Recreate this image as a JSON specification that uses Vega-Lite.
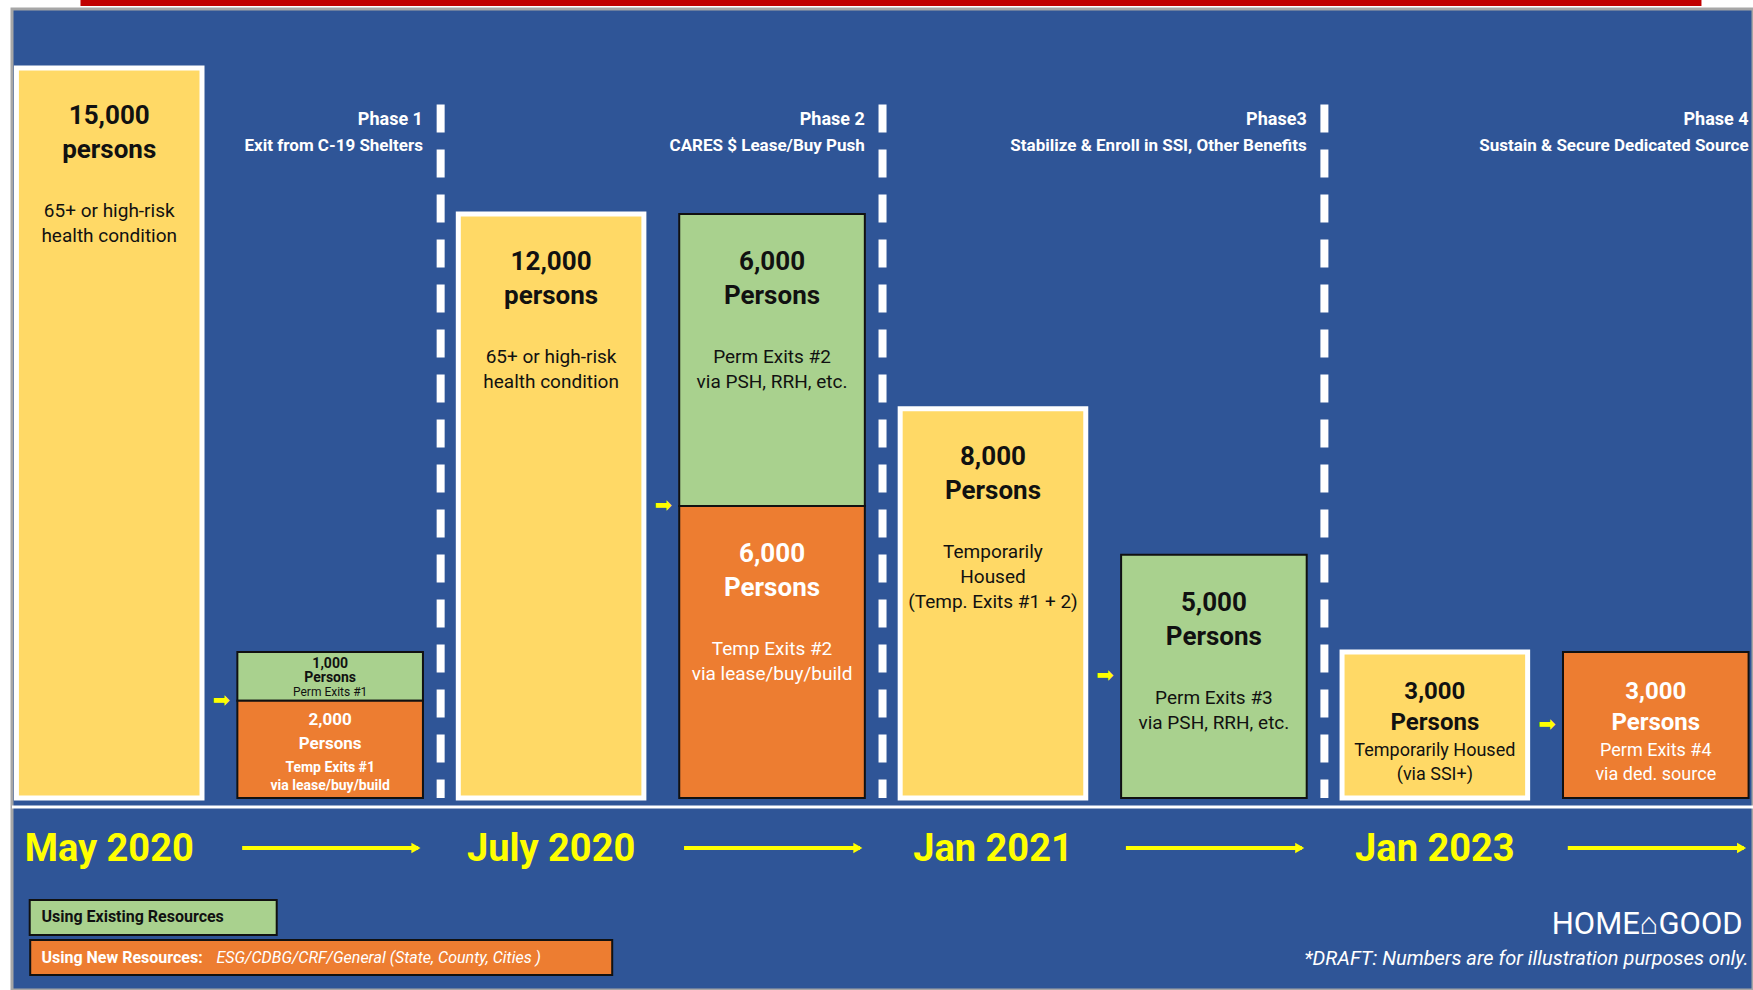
{
  "$schema": "https://vega.github.io/schema/vega-lite/v6.json",
  "width": 1741,
  "height": 981,
  "autosize": "none",
  "padding": {"left": 12, "top": 9, "right": 0, "bottom": 0},
  "background": "#FFFFFF",
  "config": {
    "view": {"fill": "#2F5597", "stroke": "#A6A6A6", "strokeWidth": 3},
    "text": {"font": "Roboto"}
  },
  "datasets": {
    "boxes": [
      {"slot": "May 2020", "kind": "Cohort", "persons": 15000, "headline": ["15,000", "persons"], "detail": ["65+ or high-risk", "health condition"]},
      {"slot": "Phase 1", "kind": "Existing resources", "persons": 1000, "headline": ["1,000", "Persons"], "detail": ["Perm Exits #1"]},
      {"slot": "Phase 1", "kind": "New resources", "persons": 2000, "headline": ["2,000", "Persons"], "detail": ["Temp Exits #1", "via lease/buy/build"]},
      {"slot": "July 2020", "kind": "Cohort", "persons": 12000, "headline": ["12,000", "persons"], "detail": ["65+ or high-risk", "health condition"]},
      {"slot": "Phase 2", "kind": "Existing resources", "persons": 6000, "headline": ["6,000", "Persons"], "detail": ["Perm Exits #2", "via PSH, RRH, etc."]},
      {"slot": "Phase 2", "kind": "New resources", "persons": 6000, "headline": ["6,000", "Persons"], "detail": ["Temp Exits #2", "via lease/buy/build"]},
      {"slot": "Jan 2021", "kind": "Cohort", "persons": 8000, "headline": ["8,000", "Persons"], "detail": ["Temporarily", "Housed", "(Temp. Exits #1 + 2)"]},
      {"slot": "Phase 3", "kind": "Existing resources", "persons": 5000, "headline": ["5,000", "Persons"], "detail": ["Perm Exits #3", "via PSH, RRH, etc."]},
      {"slot": "Jan 2023", "kind": "Cohort", "persons": 3000, "headline": ["3,000", "Persons"], "detail": ["Temporarily Housed", "(via SSI+)"]},
      {"slot": "Phase 4", "kind": "New resources", "persons": 3000, "headline": ["3,000", "Persons"], "detail": ["Perm Exits #4", "via ded. source"]}
    ],
    "phases": [
      {"slot": "Phase 1", "phase": "Phase 1", "goal": "Exit from C-19 Shelters"},
      {"slot": "Phase 2", "phase": "Phase 2", "goal": "CARES $ Lease/Buy Push"},
      {"slot": "Phase 3", "phase": "Phase3", "goal": "Stabilize & Enroll in SSI, Other Benefits"},
      {"slot": "Phase 4", "phase": "Phase 4", "goal": "Sustain & Secure Dedicated Source"}
    ],
    "milestones": [
      {"slot": "May 2020"},
      {"slot": "July 2020"},
      {"slot": "Jan 2021"},
      {"slot": "Jan 2023"}
    ],
    "legend": [
      {"slot": "May 2020", "kind": "Existing resources", "label": "Using Existing Resources", "note": ""},
      {"slot": "May 2020", "kind": "New resources", "label": "Using New Resources:", "note": "ESG/CDBG/CRF/General (State, County, Cities )"}
    ],
    "credits": [
      {"slot": "Phase 4", "org": "HOME⌂GOOD", "note": "*DRAFT: Numbers are for illustration purposes only."}
    ],
    "frame": [
      {"slot": "Jan 2021", "line": "top band"}
    ]
  },
  "layer": [
    {
      "data": {"name": "boxes"},
      "transform": [
        {"stack": "persons", "groupby": ["slot"], "sort": [{"field": "kind", "order": "descending"}], "as": ["v0", "v1"]},
        {"filter": "datum.kind == 'Cohort'"}
      ],
      "mark": {"type": "bar", "stroke": "#FFFFFF", "strokeWidth": 5},
      "encoding": {
        "x": {"field": "slot", "type": "nominal", "axis": null,
          "scale": {"type": "band", "domain": ["May 2020", "Phase 1", "July 2020", "Phase 2", "Jan 2021", "Phase 3", "Jan 2023", "Phase 4"], "paddingInner": 0.16, "paddingOuter": 0.02}},
        "y": {"field": "v1", "type": "quantitative", "axis": null, "scale": {"domain": [-3945, 16213], "nice": false, "zero": false}},
        "y2": {"field": "v0"},
        "fill": {"field": "kind", "type": "nominal", "legend": null,
          "scale": {"domain": ["Cohort", "Existing resources", "New resources"], "range": ["#FFD966", "#A9D18E", "#ED7D31"]}}
      }
    },
    {
      "data": {"name": "boxes"},
      "transform": [
        {"stack": "persons", "groupby": ["slot"], "sort": [{"field": "kind", "order": "descending"}], "as": ["v0", "v1"]},
        {"filter": "datum.kind != 'Cohort'"}
      ],
      "mark": {"type": "bar", "stroke": "#111111", "strokeWidth": 2},
      "encoding": {
        "x": {"field": "slot", "type": "nominal"},
        "y": {"field": "v1", "type": "quantitative"},
        "y2": {"field": "v0"},
        "fill": {"field": "kind", "type": "nominal", "legend": null}
      }
    },
    {
      "data": {"name": "frame"},
      "mark": {"type": "bar", "color": "#C00000", "width": 1621, "xOffset": -102},
      "encoding": {
        "x": {"field": "slot", "type": "nominal"},
        "y": {"datum": 16398, "type": "quantitative"},
        "y2": {"datum": 16274}
      }
    },
    {
      "data": {"name": "frame"},
      "mark": {"type": "rule", "color": "#FFFFFF", "strokeWidth": 3},
      "encoding": {"y": {"datum": -185, "type": "quantitative"}}
    },
    {
      "data": {"name": "phases"},
      "mark": {"type": "rule", "color": "#FFFFFF", "strokeWidth": 8, "strokeDash": [28, 17], "xOffset": 17.7},
      "encoding": {
        "x": {"field": "slot", "type": "nominal", "bandPosition": 1},
        "y": {"datum": 14250, "type": "quantitative"},
        "y2": {"datum": 0}
      }
    },
    {
      "data": {"name": "boxes"},
      "transform": [
        {"stack": "persons", "groupby": ["slot"], "sort": [{"field": "kind", "order": "descending"}], "as": ["v0", "v1"]},
        {"filter": "datum.kind != 'Cohort'"},
        {"fold": ["v0", "v1"], "as": ["edge", "level"]}
      ],
      "mark": {"type": "text", "text": "➡", "font": "DejaVu Sans", "fontSize": 21, "color": "#FFFF00", "baseline": "middle", "xOffset": -16},
      "encoding": {
        "x": {"field": "slot", "type": "nominal", "bandPosition": 0},
        "y": {"field": "level", "type": "quantitative", "aggregate": "median"}
      }
    },
    {
      "data": {"name": "boxes"},
      "transform": [
        {"stack": "persons", "groupby": ["slot"], "sort": [{"field": "kind", "order": "descending"}], "as": ["v0", "v1"]},
        {"filter": "datum.persons >= 5000"}
      ],
      "mark": {"type": "text", "baseline": "top", "fontSize": 26, "fontWeight": "bold", "dy": 35, "lineHeight": 34},
      "encoding": {
        "x": {"field": "slot", "type": "nominal"},
        "y": {"field": "v1", "type": "quantitative"},
        "text": {"field": "headline"},
        "color": {"field": "kind", "type": "nominal", "legend": null,
          "scale": {"domain": ["Cohort", "Existing resources", "New resources"], "range": ["#111111", "#111111", "#FFFFFF"]}}
      }
    },
    {
      "data": {"name": "boxes"},
      "transform": [
        {"stack": "persons", "groupby": ["slot"], "sort": [{"field": "kind", "order": "descending"}], "as": ["v0", "v1"]},
        {"filter": "datum.persons >= 5000"}
      ],
      "mark": {"type": "text", "baseline": "top", "fontSize": 19, "dy": 134, "lineHeight": 25},
      "encoding": {
        "x": {"field": "slot", "type": "nominal"},
        "y": {"field": "v1", "type": "quantitative"},
        "text": {"field": "detail"},
        "color": {"field": "kind", "type": "nominal", "legend": null}
      }
    },
    {
      "data": {"name": "boxes"},
      "transform": [
        {"stack": "persons", "groupby": ["slot"], "sort": [{"field": "kind", "order": "descending"}], "as": ["v0", "v1"]},
        {"filter": "datum.persons == 3000"}
      ],
      "mark": {"type": "text", "baseline": "top", "fontSize": 24, "fontWeight": "bold", "dy": 28, "lineHeight": 31},
      "encoding": {
        "x": {"field": "slot", "type": "nominal"},
        "y": {"field": "v1", "type": "quantitative"},
        "text": {"field": "headline"},
        "color": {"field": "kind", "type": "nominal", "legend": null}
      }
    },
    {
      "data": {"name": "boxes"},
      "transform": [
        {"stack": "persons", "groupby": ["slot"], "sort": [{"field": "kind", "order": "descending"}], "as": ["v0", "v1"]},
        {"filter": "datum.persons == 3000"}
      ],
      "mark": {"type": "text", "baseline": "top", "fontSize": 18, "dy": 90, "lineHeight": 24},
      "encoding": {
        "x": {"field": "slot", "type": "nominal"},
        "y": {"field": "v1", "type": "quantitative"},
        "text": {"field": "detail"},
        "color": {"field": "kind", "type": "nominal", "legend": null}
      }
    },
    {
      "data": {"name": "boxes"},
      "transform": [
        {"stack": "persons", "groupby": ["slot"], "sort": [{"field": "kind", "order": "descending"}], "as": ["v0", "v1"]},
        {"filter": "datum.persons == 2000"}
      ],
      "mark": {"type": "text", "baseline": "top", "fontSize": 17, "fontWeight": "bold", "dy": 11, "lineHeight": 24},
      "encoding": {
        "x": {"field": "slot", "type": "nominal"},
        "y": {"field": "v1", "type": "quantitative"},
        "text": {"field": "headline"},
        "color": {"field": "kind", "type": "nominal", "legend": null}
      }
    },
    {
      "data": {"name": "boxes"},
      "transform": [
        {"stack": "persons", "groupby": ["slot"], "sort": [{"field": "kind", "order": "descending"}], "as": ["v0", "v1"]},
        {"filter": "datum.persons == 2000"}
      ],
      "mark": {"type": "text", "baseline": "top", "fontSize": 14, "fontWeight": "bold", "dy": 60, "lineHeight": 18},
      "encoding": {
        "x": {"field": "slot", "type": "nominal"},
        "y": {"field": "v1", "type": "quantitative"},
        "text": {"field": "detail"},
        "color": {"field": "kind", "type": "nominal", "legend": null}
      }
    },
    {
      "data": {"name": "boxes"},
      "transform": [
        {"stack": "persons", "groupby": ["slot"], "sort": [{"field": "kind", "order": "descending"}], "as": ["v0", "v1"]},
        {"filter": "datum.persons == 1000"}
      ],
      "mark": {"type": "text", "baseline": "top", "fontSize": 14, "fontWeight": "bold", "dy": 5, "lineHeight": 14},
      "encoding": {
        "x": {"field": "slot", "type": "nominal"},
        "y": {"field": "v1", "type": "quantitative"},
        "text": {"field": "headline"},
        "color": {"field": "kind", "type": "nominal", "legend": null}
      }
    },
    {
      "data": {"name": "boxes"},
      "transform": [
        {"stack": "persons", "groupby": ["slot"], "sort": [{"field": "kind", "order": "descending"}], "as": ["v0", "v1"]},
        {"filter": "datum.persons == 1000"}
      ],
      "mark": {"type": "text", "baseline": "top", "fontSize": 12, "dy": 35},
      "encoding": {
        "x": {"field": "slot", "type": "nominal"},
        "y": {"field": "v1", "type": "quantitative"},
        "text": {"field": "detail"},
        "color": {"field": "kind", "type": "nominal", "legend": null}
      }
    },
    {
      "data": {"name": "phases"},
      "mark": {"type": "text", "align": "right", "baseline": "middle", "fontSize": 18, "fontWeight": "bold", "color": "#FFFFFF"},
      "encoding": {
        "x": {"field": "slot", "type": "nominal", "bandPosition": 1},
        "y": {"datum": 13932, "type": "quantitative"},
        "text": {"field": "phase"}
      }
    },
    {
      "data": {"name": "phases"},
      "mark": {"type": "text", "align": "right", "baseline": "middle", "fontSize": 17, "fontWeight": "bold", "color": "#FFFFFF"},
      "encoding": {
        "x": {"field": "slot", "type": "nominal", "bandPosition": 1},
        "y": {"datum": 13398, "type": "quantitative"},
        "text": {"field": "goal"}
      }
    },
    {
      "data": {"name": "milestones"},
      "mark": {"type": "text", "align": "center", "baseline": "middle", "fontSize": 38, "fontWeight": "bold", "color": "#FFFF00"},
      "encoding": {
        "x": {"field": "slot", "type": "nominal"},
        "y": {"datum": -1069, "type": "quantitative"},
        "text": {"field": "slot"}
      }
    },
    {
      "data": {"name": "phases"},
      "mark": {"type": "tick", "orient": "horizontal", "size": 176, "thickness": 4, "color": "#FFFF00", "opacity": 1},
      "encoding": {
        "x": {"field": "slot", "type": "nominal"},
        "y": {"datum": -1027, "type": "quantitative"}
      }
    },
    {
      "data": {"name": "phases"},
      "mark": {"type": "point", "shape": "triangle-right", "filled": true, "size": 110, "color": "#FFFF00", "opacity": 1, "xOffset": -7},
      "encoding": {
        "x": {"field": "slot", "type": "nominal", "bandPosition": 1},
        "y": {"datum": -1027, "type": "quantitative"}
      }
    },
    {
      "data": {"name": "legend"},
      "transform": [{"filter": "datum.kind == 'Existing resources'"}],
      "mark": {"type": "bar", "width": 247, "xOffset": 44, "stroke": "#111111", "strokeWidth": 2},
      "encoding": {
        "x": {"field": "slot", "type": "nominal"},
        "y": {"datum": -2096, "type": "quantitative"},
        "y2": {"datum": -2815},
        "fill": {"field": "kind", "type": "nominal", "legend": null}
      }
    },
    {
      "data": {"name": "legend"},
      "transform": [{"filter": "datum.kind == 'New resources'"}],
      "mark": {"type": "bar", "width": 582, "xOffset": 212, "stroke": "#111111", "strokeWidth": 2},
      "encoding": {
        "x": {"field": "slot", "type": "nominal"},
        "y": {"datum": -2918, "type": "quantitative"},
        "y2": {"datum": -3637},
        "fill": {"field": "kind", "type": "nominal", "legend": null}
      }
    },
    {
      "data": {"name": "legend"},
      "transform": [{"filter": "datum.kind == 'Existing resources'"}],
      "mark": {"type": "text", "align": "left", "baseline": "middle", "fontSize": 16, "fontWeight": "bold", "color": "#111111", "dx": 25},
      "encoding": {
        "x": {"field": "slot", "type": "nominal", "bandPosition": 0},
        "y": {"datum": -2445, "type": "quantitative"},
        "text": {"field": "label"}
      }
    },
    {
      "data": {"name": "legend"},
      "transform": [{"filter": "datum.kind == 'New resources'"}],
      "mark": {"type": "text", "align": "left", "baseline": "middle", "fontSize": 16, "fontWeight": "bold", "color": "#FFFFFF", "dx": 25},
      "encoding": {
        "x": {"field": "slot", "type": "nominal", "bandPosition": 0},
        "y": {"datum": -3288, "type": "quantitative"},
        "text": {"field": "label"}
      }
    },
    {
      "data": {"name": "legend"},
      "transform": [{"filter": "datum.kind == 'New resources'"}],
      "mark": {"type": "text", "align": "left", "baseline": "middle", "fontSize": 16, "fontStyle": "italic", "color": "#FFFFFF", "dx": 200},
      "encoding": {
        "x": {"field": "slot", "type": "nominal", "bandPosition": 0},
        "y": {"datum": -3288, "type": "quantitative"},
        "text": {"field": "note"}
      }
    },
    {
      "data": {"name": "credits"},
      "mark": {"type": "text", "align": "right", "baseline": "middle", "fontSize": 31, "color": "#FFFFFF", "dx": -6},
      "encoding": {
        "x": {"field": "slot", "type": "nominal", "bandPosition": 1},
        "y": {"datum": -2610, "type": "quantitative"},
        "text": {"field": "org"}
      }
    },
    {
      "data": {"name": "credits"},
      "mark": {"type": "text", "align": "right", "baseline": "middle", "fontSize": 20, "fontStyle": "italic", "color": "#FFFFFF"},
      "encoding": {
        "x": {"field": "slot", "type": "nominal", "bandPosition": 1},
        "y": {"datum": -3308, "type": "quantitative"},
        "text": {"field": "note"}
      }
    }
  ]
}
